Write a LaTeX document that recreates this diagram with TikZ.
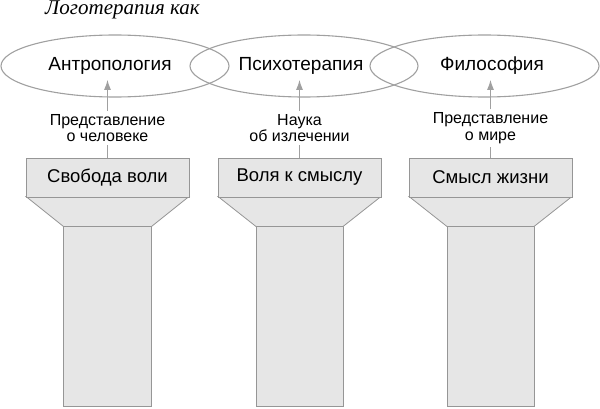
\documentclass[tikz,border=0pt]{standalone}
\usepackage{fontspec}
\setmainfont{Liberation Sans}
\newfontfamily\titlefont{Liberation Serif}
\usetikzlibrary{shapes.geometric,arrows.meta}
\definecolor{linegray}{RGB}{160,160,160}
\definecolor{boxfill}{RGB}{230,230,230}
\definecolor{boxline}{RGB}{150,150,150}
\tikzset{
  field/.style={ellipse, draw=linegray, line width=1.1pt, minimum width=228pt, minimum height=62pt, inner sep=0pt},
  fieldtext/.style={font=\fontsize{19}{22}\selectfont},
  reltext/.style={align=center, font=\fontsize{16}{16.5}\selectfont, inner sep=3pt},
  capbox/.style={rectangle, draw=boxline, fill=boxfill, line width=0.8pt, minimum width=163pt, minimum height=39pt, font=\fontsize{18.5}{21}\selectfont},
  shaft/.style={draw=boxline, fill=boxfill, line width=0.8pt, line join=miter},
  uparrow/.style={draw=linegray, line width=0.8pt, -{Latex[length=10pt,width=7pt]}},
  plainline/.style={draw=linegray, line width=0.8pt}
}
\begin{document}
\begin{tikzpicture}[x=1pt, y=1pt]
	\useasboundingbox (0,0) rectangle (600,408);
	\node [anchor=base west, inner sep=0pt, font=\titlefont\itshape\fontsize{21}{23}\selectfont] (title) at (45,393) {Логотерапия как};

	\node [field] (anthro) at (115,342) {};
	\node [field] (psycho) at (304,342) {};
	\node [field, minimum width=229pt] (philo) at (484.5,342) {};
	\node [fieldtext] (anthroT) at (110,342) {Антропология};
	\node [fieldtext] (psychoT) at (301,342) {Психотерапия};
	\node [fieldtext] (philoT) at (492,342) {Философия};

	% Свобода воли
	\draw [shaft] (63.5,2) rectangle (151.5,182);
	\draw [shaft] (26,211.5) -- (63.5,181.5) -- (151.5,181.5) -- (189,211.5) -- cycle;
	\node [capbox] (freedom) at (107.5,230.5) {Свобода воли};
	\coordinate (tipA) at (107.5,328);
	\node [reltext] (relA) at (107.5,280) {Представление\\о человеке};
	\draw [uparrow] (relA.north) -- (tipA);
	\draw [plainline] (freedom.north) -- (relA.south);

	% Воля к смыслу
	\draw [shaft] (256,2) rectangle (343,182);
	\draw [shaft] (218,211.5) -- (256,181.5) -- (343,181.5) -- (381,211.5) -- cycle;
	\node [capbox] (will) at (299.5,230.5) {Воля к смыслу};
	\coordinate (tipB) at (299.5,328);
	\node [reltext] (relB) at (299.5,280) {Наука\\об излечении};
	\draw [uparrow] (relB.north) -- (tipB);
	\draw [plainline] (will.north) -- (relB.south);

	% Смысл жизни
	\draw [shaft] (447,2) rectangle (534,182);
	\draw [shaft] (409,211.5) -- (447,181.5) -- (534,181.5) -- (572,211.5) -- cycle;
	\node [capbox] (meaning) at (490.5,230.5) {Смысл жизни};
	\coordinate (tipC) at (490.5,328);
	\node [reltext] (relC) at (490.5,280) {Представление\\о мире};
	\draw [uparrow] (relC.north) -- (tipC);
	\draw [plainline] (meaning.north) -- (relC.south);
\end{tikzpicture}
\end{document}
